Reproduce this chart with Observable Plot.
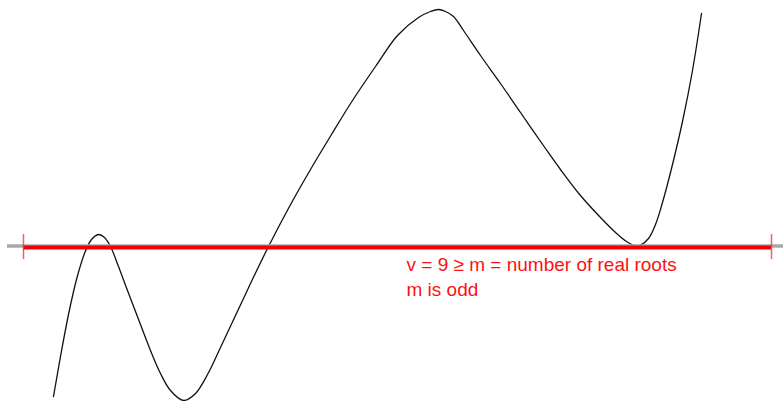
<!DOCTYPE html>
<html>
<head>
<meta charset="utf-8">
<script src="https://cdn.jsdelivr.net/npm/d3@7"></script>
<script src="https://cdn.jsdelivr.net/npm/@observablehq/plot@0.6"></script>
<style>
  html, body { margin: 0; padding: 0; background: #fff; }
</style>
</head>
<body>
<div id="chart"></div>
<script>
// Curve samples (x, y with y = 0 on the axis, up positive)
const curveX = [53, 60, 68, 76, 84, 91, 98, 104, 110, 118, 127, 140, 150, 160, 170, 183, 195, 207, 220, 235, 250, 268, 289, 310, 331, 352, 375, 397, 418, 430, 438, 445, 453, 463, 480, 500, 520, 545, 560, 580, 600, 615, 626, 634, 640, 648, 655, 662, 672, 682, 692, 701];
const curveY = [-150, -110, -68, -33, -7, 7, 12, 9, 0, -20, -44, -78, -104, -127, -144, -154, -147, -128, -101, -69, -37, 0, 40, 77, 112, 146, 180, 211, 229, 235, 237, 235, 230, 216, 191, 163, 134, 98, 77, 51, 29, 14, 5, 1, 1.5, 8, 22, 44, 82, 125, 176, 233];

const axisSpan = [7, 783];     // grey real axis
const rootSpan = [23, 771];    // red interval
const labels = ["v = 9 \u2265 m = number of real roots", "m is odd"];
const labelY = [-18.6, -43];
const labelX = 406;

const curve = curveX.map((x, i) => ({x, y: curveY[i]}));
const labelData = labels.map((t, i) => ({t, y: labelY[i]}));

const chart = Plot.plot({
  width: 783,
  height: 401,
  margin: 0,
  x: {domain: [0, 783], range: [0, 783], axis: null},
  y: {domain: [-155, 246], range: [401, 0], axis: null},
  style: {background: "#fff"},
  marks: [
    Plot.line(curve, {x: "x", y: "y", curve: "catmull-rom", stroke: "#111", strokeWidth: 1.3}),
    Plot.ruleY([0], {x1: axisSpan[0], x2: axisSpan[1], stroke: "#a8a8a8", strokeWidth: 3.5, dy: -0.5}),
    Plot.ruleY([0], {x1: rootSpan[0], x2: rootSpan[1], stroke: "#ee0000", strokeWidth: 4, dy: 1}),
    Plot.ruleX(rootSpan, {x: d => d, y1: -13, y2: 12, stroke: "#ff3030", strokeWidth: 1.5, strokeOpacity: 0.8}),
    Plot.text(labelData, {x: labelX, y: "y", text: "t", textAnchor: "start", fill: "#ff1010", fontSize: 19, fontFamily: "Liberation Sans, Arial, sans-serif"})
  ]
});
document.getElementById("chart").appendChild(chart);
</script>
</body>
</html>
